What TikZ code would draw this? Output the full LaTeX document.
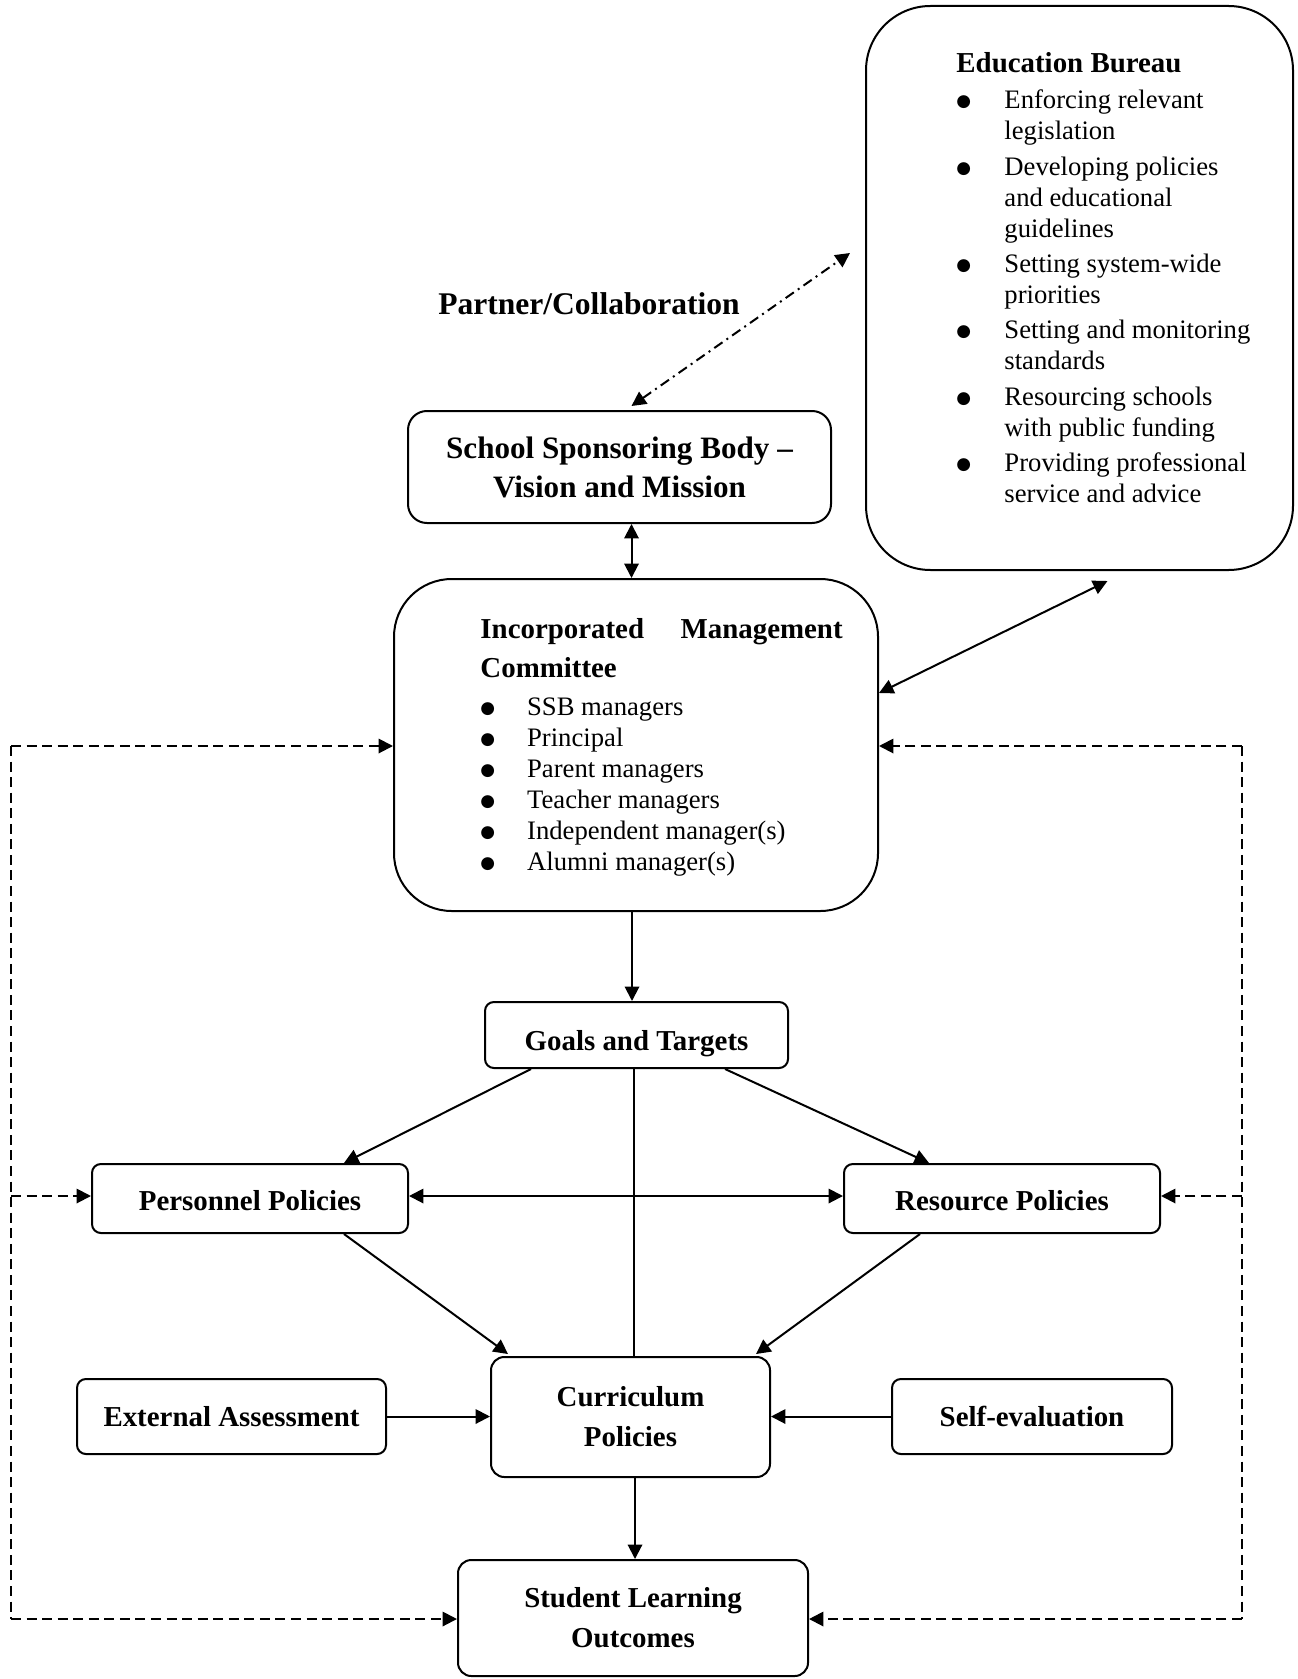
\documentclass[tikz,border=0pt]{standalone}
\usepackage{fontspec}
\setmainfont{Liberation Serif}
\newfontfamily\djv{DejaVu Sans}
\usetikzlibrary{arrows.meta,calc}
\newcommand\bul{\raisebox{0.9pt}{\djv\fontsize{7.6}{7.6}\selectfont ●}}
\begin{document}
\begin{tikzpicture}[x=0.45pt,y=-0.45pt,
  box/.style={draw, line width=0.9pt, rounded corners=4pt, inner sep=0pt},
  sz/.style 2 args={minimum width=#1*0.45pt, minimum height=#2*0.45pt},
  btitle/.style={font=\fontsize{13}{18}\selectfont\bfseries, align=center},
  bigtitle/.style={font=\fontsize{14}{17.6}\selectfont\bfseries, align=center},
  arr/.style={line width=0.9pt, -{Triangle[length=6.5pt,width=6.5pt]}},
  dbl/.style={line width=0.9pt, {Triangle[length=6.5pt,width=6.5pt]}-{Triangle[length=6.5pt,width=6.5pt]}},
  fb/.style={arr, dash pattern=on 4.5pt off 2.5pt},
  collab/.style={dbl, dash pattern=on 4.5pt off 2.2pt on 0.9pt off 2.2pt},
  plain/.style={line width=0.9pt},
  fbline/.style={line width=0.9pt, dash pattern=on 4.5pt off 2.5pt},
  bodytext/.style={anchor=base west, inner sep=0pt, font=\fontsize{12}{13.95}\selectfont},
]
\useasboundingbox (0,0) rectangle (1298,1679);

% boxes
\node[box, rounded corners=29pt, sz={427}{564}] (eb) at (1079.5,288) {};
\node[box, rounded corners=8.5pt, bigtitle, sz={423}{112}] (ssb) at (619.5,467) {School Sponsoring Body --\\Vision and Mission};
\node[box, rounded corners=26pt, sz={484}{332}] (imc) at (636,745) {};
\node[box, btitle, sz={303}{66}, text height=14pt, text depth=0.3pt] (goals) at (636.5,1035) {Goals and Targets};
\node[box, btitle, sz={316}{69}, text height=11pt, text depth=0pt] (pers) at (250,1198.5) {Personnel Policies};
\node[box, btitle, sz={316}{69}, text height=11pt, text depth=0pt] (res) at (1002,1198.5) {Resource Policies};
\node[box, rounded corners=6pt, btitle, sz={279}{120}] (curr) at (630.5,1417) {Curriculum\\Policies};
\node[box, btitle, sz={309}{75}] (ea) at (231.5,1416.5) {External Assessment};
\node[box, btitle, sz={280}{75}] (se) at (1032,1416.5) {Self-evaluation};
\node[box, rounded corners=6pt, btitle, sz={350}{116}] (slo) at (633,1618) {Student Learning\\Outcomes};

\node[font=\fontsize{14.2}{16}\selectfont\bfseries] (partner) at (589,304) {Partner/Collaboration};

% Education Bureau text
\node[bodytext] (ebtext) at (956,72.5) {%
\begin{tabular}[t]{@{}p{21.6pt}@{}l@{}}
\multicolumn{2}{@{}l@{}}{\fontsize{13}{13.95}\selectfont\bfseries Education Bureau}\\[2.3pt]
\bul & Enforcing relevant\\
 & legislation\\[2pt]
\bul & Developing policies\\
 & and educational\\
 & guidelines\\[2pt]
\bul & Setting system-wide\\
 & priorities\\[2pt]
\bul & Setting and monitoring\\
 & standards\\[2pt]
\bul & Resourcing schools\\
 & with public funding\\[2pt]
\bul & Providing professional\\
 & service and advice
\end{tabular}};

% IMC text
\node[bodytext] (imctext) at (480,638) {%
\begin{tabular}[t]{@{}p{21pt}@{}l@{}}
\multicolumn{2}{@{}l@{}}{\fontsize{13}{13.95}\selectfont\bfseries\makebox[163pt]{Incorporated\hfill Management}}\\[4pt]
\multicolumn{2}{@{}l@{}}{\fontsize{13}{13.95}\selectfont\bfseries Committee}\\[2.9pt]
\bul & SSB managers\\
\bul & Principal\\
\bul & Parent managers\\
\bul & Teacher managers\\
\bul & Independent manager(s)\\
\bul & Alumni manager(s)
\end{tabular}};

% connectors
\draw[collab] ($(ssb.north)+(12,-4)$) -- ($(eb.west)+(-15,-35)$);
\draw[dbl] ($(ssb.south)+(12,0)$) -- ($(ssb.south |- imc.north)+(12,0)$);
\draw[dbl] ($(imc.east)+(0,-52)$) -- ($(eb.south)+(28,10)$);
\draw[arr] ($(imc.south)+(-4,0)$) -- ($(goals.north)+(-4.5,0)$);
\draw[arr] ($(goals.south west)+(47,0)$) -- ($(pers.north east)+(-65,0)$);
\draw[arr] ($(goals.south east)+(-64,0)$) -- ($(res.north west)+(86,0)$);
\draw[plain] ($(goals.south)+(-2.5,0)$) -- ($(goals.south |- curr.north)+(-2.5,0)$);
\draw[dbl] ($(pers.east)+(0,-2.5)$) -- ($(res.west)+(0,-2.5)$);
\draw[arr] ($(pers.south east)+(-65,0)$) -- ($(curr.north west)+(18,-2)$);
\draw[arr] ($(res.south west)+(77,0)$) -- ($(curr.north east)+(-15,-2)$);
\draw[arr] (ea.east) -- (ea.east -| curr.west);
\draw[arr] (se.west) -- (se.west -| curr.east);
\draw[arr] ($(curr.south -| slo.north)+(2,0)$) -- ($(slo.north)+(2,0)$);

% feedback loops
\coordinate (lt) at (11,746);
\coordinate (lb) at (11,1619);
\coordinate (rt) at (1242,746);
\coordinate (rb) at (1242,1619);
\draw[fbline] (lt) -- (lb);
\draw[fbline] (rt) -- (rb);
\draw[fb] (lt) -- (lt -| imc.west);
\draw[fb] ($(lt |- pers.west)+(0,-2.5)$) -- ($(pers.west)+(0,-2.5)$);
\draw[fb] (lb) -- (lb -| slo.west);
\draw[fb] (rt) -- (rt -| imc.east);
\draw[fb] ($(rt |- res.east)+(0,-2.5)$) -- ($(res.east)+(0,-2.5)$);
\draw[fb] (rb) -- (rb -| slo.east);
\end{tikzpicture}
\end{document}
